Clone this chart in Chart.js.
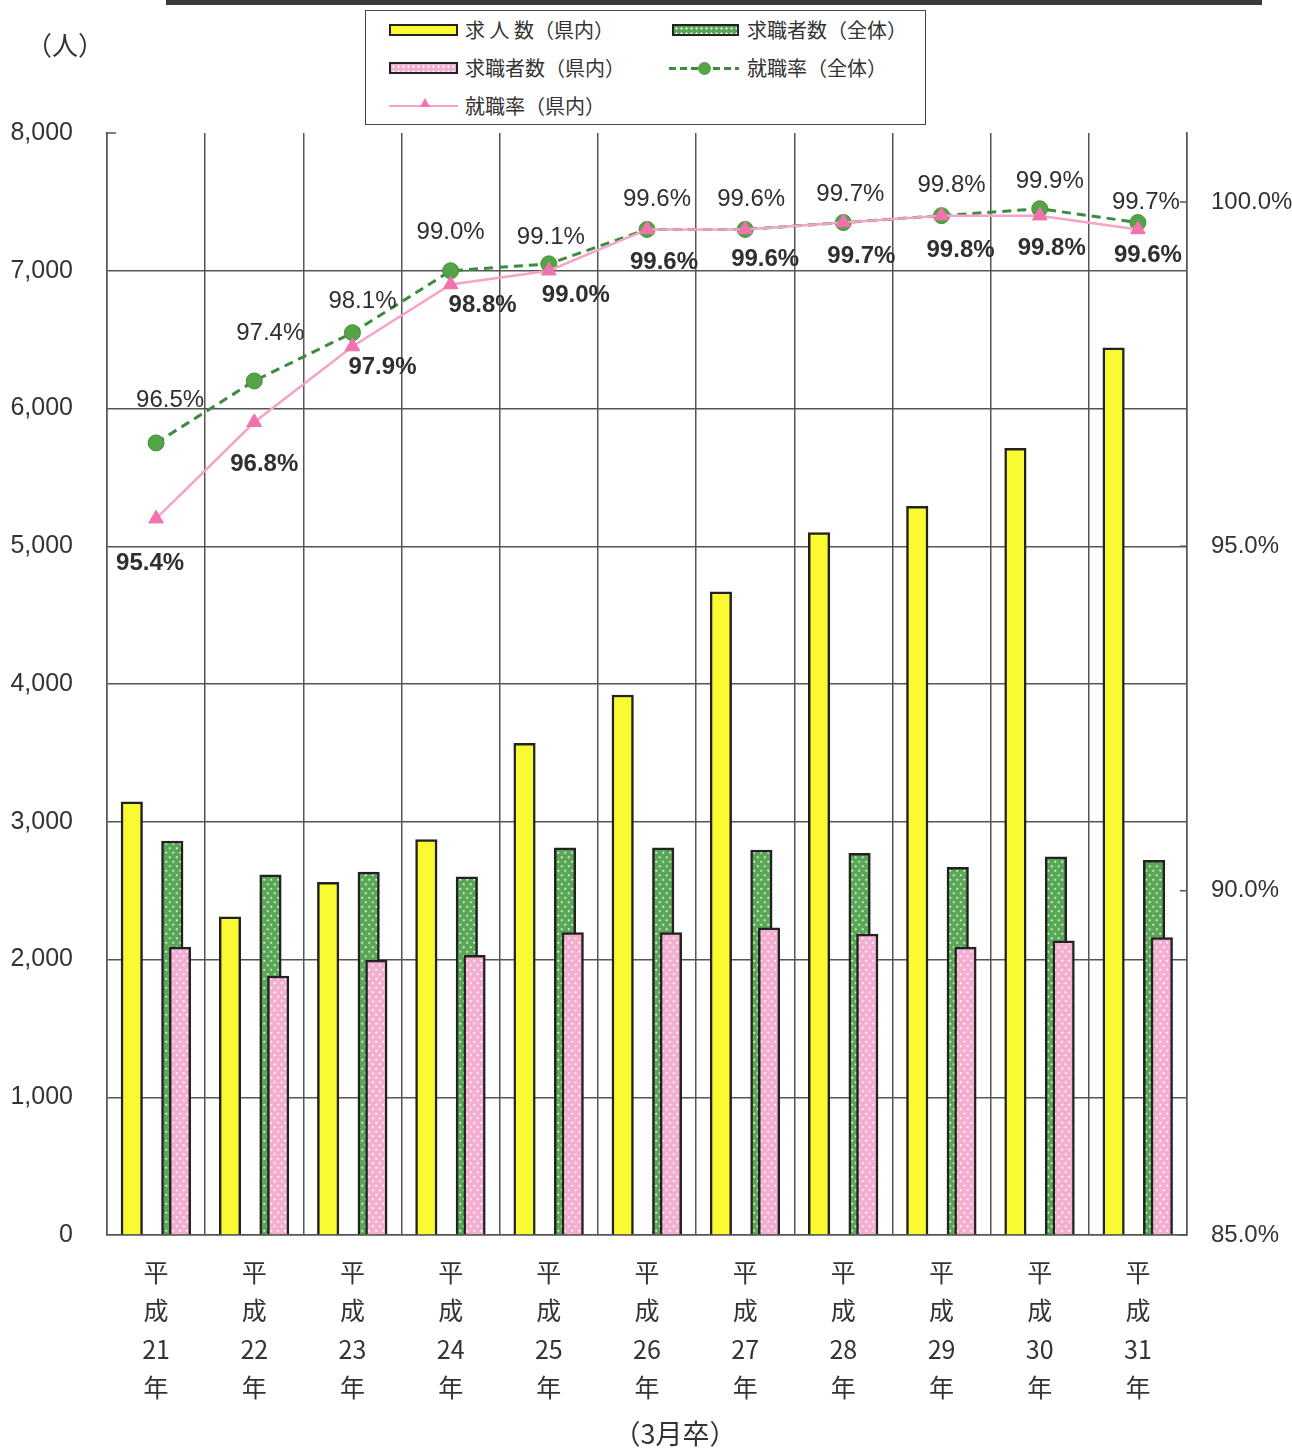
<!DOCTYPE html>
<html lang="ja">
<head>
<meta charset="utf-8">
<title>求人数・求職者数・就職率の推移</title>
<script src="https://cdn.jsdelivr.net/npm/chart.js@4.4.1/dist/chart.umd.min.js"></script>
<style>
  body { margin: 0; background: #fff; }
  #quadro { position: relative; width: 1292px; height: 1448px; overflow: hidden;
            font-family: "Noto Sans CJK JP", sans-serif; color: #333; }
  #grafico { position: absolute; left: 0; top: 0; }
  .moldura { position: absolute; left: 166px; top: -41px; width: 1090px; height: 38px;
             border: 3px solid #3a3a3a; border-bottom-width: 5px; }
  .unidade { position: absolute; left: 26px; top: 27px; font-size: 26px; line-height: 34px; }
  .rodape { position: absolute; left: 575px; width: 200px; top: 1415px; text-align: center;
            font-size: 27px; line-height: 36px; }
  .legenda { position: absolute; left: 365px; top: 10px; width: 559px; height: 113px;
             border: 1px solid #444; background: #fff; }
  .legenda .txt { position: absolute; font-size: 20px; line-height: 24px; white-space: pre; }
  .legenda .sw { position: absolute; box-sizing: border-box; }
</style>
</head>
<body>
<div id="quadro">
  <canvas id="grafico" width="1292" height="1448"></canvas>
  <div class="moldura"></div>
  <div class="unidade">（人）</div>
  <div class="rodape">（3月卒）</div>
  <div class="legenda">
    <div class="sw" style="left:23px;top:13px;width:69px;height:12px;border:2px solid #222;background:#fafa32"></div>
    <div class="txt" style="left:99px;top:7px">求 人 数（県内）</div>
    <div class="sw" style="left:306px;top:13px;width:67px;height:12px;border:2px solid #222;background:#5aa857 radial-gradient(circle, #e6f4df 0.9px, transparent 1.3px) 0 0/5px 5px"></div>
    <div class="txt" style="left:381px;top:7px">求職者数（全体）</div>
    <div class="sw" style="left:23px;top:51px;width:69px;height:12px;border:2px solid #222;background:#f4afd0 radial-gradient(circle, #fff 0.9px, transparent 1.3px) 0 0/5px 5px"></div>
    <div class="txt" style="left:99px;top:45px">求職者数（県内）</div>
    <div class="sw" style="left:303px;top:56px;width:70px;height:3px;background:repeating-linear-gradient(90deg,#3d8b3d 0 7px,transparent 7px 11px)"></div>
    <div class="sw" style="left:332px;top:51px;width:13px;height:13px;border-radius:50%;background:#55a347"></div>
    <div class="txt" style="left:381px;top:45px">就職率（全体）</div>
    <div class="sw" style="left:23px;top:94px;width:69px;height:2px;background:#f5a3c7"></div>
    <div class="sw" style="left:54px;top:87px;width:0;height:0;border-left:5px solid transparent;border-right:5px solid transparent;border-bottom:9px solid #f272ad"></div>
    <div class="txt" style="left:99px;top:83px">就職率（県内）</div>
  </div>
</div>
<script>
// categorias (3月卒)
const anos = ['平成21年', '平成22年', '平成23年', '平成24年', '平成25年', '平成26年',
              '平成27年', '平成28年', '平成29年', '平成30年', '平成31年'];

// valores (人)
const kyujinKennai   = [3145, 2310, 2560, 2870, 3570, 3920, 4670, 5100, 5290, 5710, 6440];
const kyushokuZentai = [2860, 2615, 2635, 2600, 2810, 2810, 2795, 2770, 2670, 2745, 2720];
const kyushokuKennai = [2090, 1880, 1995, 2030, 2195, 2195, 2230, 2185, 2090, 2135, 2160];

// 就職率 (%)
const ritsuZentai = [96.5, 97.4, 98.1, 99.0, 99.1, 99.6, 99.6, 99.7, 99.8, 99.9, 99.7];
const ritsuKennai = [95.4, 96.8, 97.9, 98.8, 99.0, 99.6, 99.6, 99.7, 99.8, 99.8, 99.6];

// eixos
const eixoPessoas = { min: 0, max: 8000, passo: 1000 };
const eixoTaxa = { min: 85, max: 101, passo: 5 };

// posição de cada barra dentro da categoria (fração da largura da categoria)
const posBarra = { kyujin: -0.2475, zentai: 0.165, kennai: 0.2435 };
const LARG_BARRA = 21.5;

// deslocamento dos rótulos em relação ao ponto (px)
const desvioZentai = [[14, -43], [16, -48], [10, -31], [0, -38], [2, -26], [10, -30],
                      [6, -30], [7, -28], [10, -30], [10, -27], [8, -20]];
const desvioKennai = [[-6, 45], [10, 42], [30, 21], [32, 21], [27, 25], [17, 33],
                      [20, 30], [18, 34], [19, 35], [12, 33], [10, 26]];

const COR_GRADE = '#555';

function pontilhado(fundo, ponto) {
  const c = document.createElement('canvas');
  c.width = 7; c.height = 9;
  const g = c.getContext('2d');
  g.fillStyle = fundo;
  g.fillRect(0, 0, 7, 9);
  g.fillStyle = ponto;
  g.beginPath();
  g.arc(1.75, 2.25, 1.05, 0, Math.PI * 2);
  g.arc(5.25, 6.75, 1.05, 0, Math.PI * 2);
  g.fill();
  return g.createPattern(c, 'repeat');
}

// pares {x: índice da categoria, y: valor}
const pares = arr => arr.map((v, i) => ({ x: i, y: v }));

// eixo linear oculto, deslocado para posicionar a barra
function eixoBarra(frac) {
  return {
    type: 'linear', display: false, offset: false, grace: 0,
    min: -0.5 - frac, max: anos.length - 0.5 - frac,
    grid: { display: false }
  };
}

const ctx = document.getElementById('grafico').getContext('2d');
const verde = pontilhado('#5aa857', '#e3f2dc');
const rosa = pontilhado('#f4afd0', '#ffffff');

// rótulos de porcentagem e marcas curtas nos eixos
const rotulos = {
  id: 'rotulos',
  afterDatasetsDraw(chart) {
    const c = chart.ctx;
    const y = chart.scales.y, y2 = chart.scales.y2;
    c.save();
    c.strokeStyle = COR_GRADE;
    c.lineWidth = 1.5;
    c.beginPath();
    const topo = y.getPixelForValue(eixoPessoas.max);
    c.moveTo(y.right, topo); c.lineTo(y.right + 9, topo);
    y2.ticks.forEach(t => {
      const p = y2.getPixelForValue(t.value);
      c.moveTo(y2.left - 7, p); c.lineTo(y2.left, p);
    });
    c.stroke();

    c.textAlign = 'center';
    c.textBaseline = 'middle';
    c.fillStyle = '#2f2f2f';
    const series = [
      [1, ritsuZentai, desvioZentai, '24px "Liberation Sans", Arial, sans-serif'],
      [0, ritsuKennai, desvioKennai, 'bold 24px "Liberation Sans", Arial, sans-serif']
    ];
    series.forEach(([idx, valores, desvio, fonte]) => {
      c.font = fonte;
      chart.getDatasetMeta(idx).data.forEach((pt, i) => {
        c.fillText(valores[i].toFixed(1) + '%', pt.x + desvio[i][0], pt.y + desvio[i][1]);
      });
    });
    c.restore();
  }
};

Chart.defaults.font.family = '"Liberation Sans", Arial, sans-serif';
Chart.defaults.color = '#333';

const estiloBarra = { grouped: false, barThickness: LARG_BARRA, borderColor: '#222', borderWidth: 2.5, yAxisID: 'y' };

new Chart(ctx, {
  type: 'bar',
  data: {
    labels: anos,
    datasets: [
      {
        type: 'line', label: '就職率（県内）', data: ritsuKennai,
        xAxisID: 'x', yAxisID: 'y2', order: 0,
        borderColor: '#f5a3c7', borderWidth: 2.5,
        pointStyle: 'triangle', pointRadius: 8.5,
        pointBackgroundColor: '#f272ad', pointBorderColor: '#f272ad', pointBorderWidth: 1
      },
      {
        type: 'line', label: '就職率（全体）', data: ritsuZentai,
        xAxisID: 'x', yAxisID: 'y2', order: 1,
        borderColor: '#3d8b3d', borderWidth: 3, borderDash: [9, 6],
        pointRadius: 8, pointBackgroundColor: '#55a347',
        pointBorderColor: '#458f3d', pointBorderWidth: 1
      },
      Object.assign({
        label: '求職者数（県内）', data: pares(kyushokuKennai),
        xAxisID: 'xKennai', order: 2, backgroundColor: rosa
      }, estiloBarra),
      Object.assign({
        label: '求職者数（全体）', data: pares(kyushokuZentai),
        xAxisID: 'xZentai', order: 3, backgroundColor: verde
      }, estiloBarra),
      Object.assign({
        label: '求人数（県内）', data: pares(kyujinKennai),
        xAxisID: 'xKyujin', order: 4, backgroundColor: '#fafa32'
      }, estiloBarra)
    ]
  },
  options: {
    responsive: false,
    animation: false,
    devicePixelRatio: 1,
    layout: { padding: { top: 133, left: 0, right: 0, bottom: 0 } },
    plugins: { legend: { display: false }, tooltip: { enabled: false } },
    scales: {
      x: {
        type: 'category', position: 'bottom', offset: true,
        grid: { offset: true, color: COR_GRADE, lineWidth: 1.5, drawTicks: false },
        border: { display: true, color: COR_GRADE, width: 1.5 },
        ticks: {
          padding: 18, maxRotation: 0, autoSkip: false, color: '#333',
          font: { family: '"Noto Sans CJK JP", sans-serif', size: 25, lineHeight: 1.54 },
          callback: (v, i) => ['平', '成', anos[i].slice(2, -1), '年']
        },
        afterFit: s => { s.height = 213; }
      },
      xKyujin: eixoBarra(posBarra.kyujin),
      xZentai: eixoBarra(posBarra.zentai),
      xKennai: eixoBarra(posBarra.kennai),
      y: {
        position: 'left', min: eixoPessoas.min, max: eixoPessoas.max,
        grid: {
          color: c => (c.tick && c.tick.value === eixoPessoas.max) ? 'rgba(0,0,0,0)' : COR_GRADE,
          lineWidth: 1.5, drawTicks: false
        },
        border: { display: true, color: COR_GRADE, width: 1.5 },
        ticks: {
          stepSize: eixoPessoas.passo, padding: 34, color: '#333',
          font: { size: 25 },
          callback: v => v.toLocaleString('en-US')
        },
        afterFit: s => { s.width = 107; }
      },
      y2: {
        position: 'right', min: eixoTaxa.min, max: eixoTaxa.max,
        grid: { drawOnChartArea: false, drawTicks: false },
        border: { display: true, color: COR_GRADE, width: 1.5 },
        ticks: {
          stepSize: eixoTaxa.passo, includeBounds: false, padding: 24, color: '#333',
          font: { size: 24 },
          callback: v => v.toFixed(1) + '%'
        },
        afterFit: s => { s.width = 105; }
      }
    }
  },
  plugins: [rotulos]
});
</script>
</body>
</html>
